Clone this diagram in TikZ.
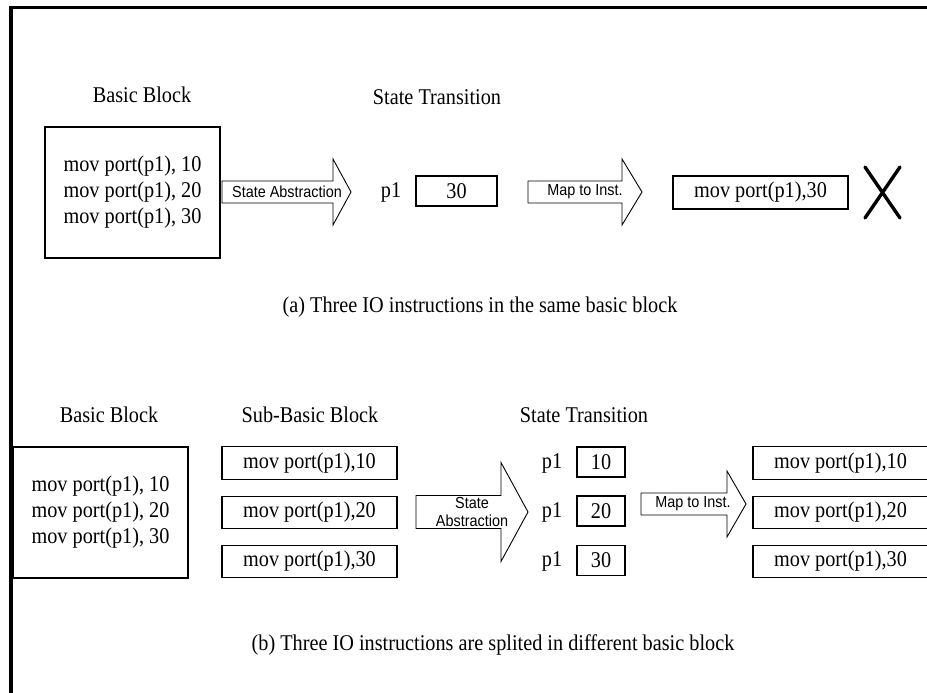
\documentclass[tikz,border=0pt]{standalone}
\usepackage{fontspec}
\setmainfont{Liberation Serif}[FakeStretch=0.9]
\setsansfont{Liberation Sans}[FakeStretch=0.9]
\newcommand\serifsz{\fontsize{22.5}{26}\selectfont}
\newcommand\sanssz{\sffamily\fontsize{16}{18}\selectfont}
% hollow block arrow: start x, body end x, tip x, centre y, half body height, half head height
\newcommand\blockarr[6]{%
  \draw[barrow] (#1,#4-#5) -- (#2,#4-#5) -- (#2,#4-#6) -- (#3,#4)
    -- (#2,#4+#6) -- (#2,#4+#5) -- (#1,#4+#5) -- cycle;}
\begin{document}
\begin{tikzpicture}[x=1pt,y=-1pt,
  box/.style={draw, line width=1.2pt, inner sep=0pt, font=\serifsz, align=center},
  lbl/.style={inner sep=0pt, font=\serifsz},
  arrtxt/.style={inner sep=0pt, font=\sanssz, align=center},
  barrow/.style={draw, line width=0.9pt, fill=white, line join=miter}]
\useasboundingbox (0,0) rectangle (927,693);
\clip (0,0) rectangle (927,693);
\fill[white] (0,0) rectangle (927,693);

% frame
\draw[line width=2.7pt] (9.5,7.3) -- (930,7.3);
\draw[line width=3.4pt] (11,6) -- (11,700);

% ---------- (a) ----------
\node[lbl] (ta1) at (142,95) {Basic Block};
\node[lbl] (ta2) at (437,97) {State Transition};
\node[box, minimum width=175pt, minimum height=131pt] (bba) at (132.5,192.5)
  {mov port(p1), 10\\mov port(p1), 20\\mov port(p1), 30};
\blockarr{222}{333}{351}{192}{11}{33}
\node[arrtxt] (saa) at (287,192) {State Abstraction};
\node[lbl] (p1a) at (391,192) {p1};
\node[box, minimum width=81pt, minimum height=30pt] (va) at (456.5,191) {30};
\blockarr{528}{622}{642}{192}{11}{33}
\node[arrtxt] (mia) at (585,192) {Map to Inst.};
\node[box, minimum width=175pt, minimum height=33pt] (ia) at (760.5,192.5) {mov port(p1),30};
\coordinate (xa1) at (865,167);
\coordinate (xa2) at (900,218);
\coordinate (xa3) at (865,218);
\coordinate (xa4) at (900,167);
\draw[line width=3.4pt, line cap=round] (xa1) -- (xa2) (xa3) -- (xa4);
\node[lbl] (capa) at (480,307) {(a) Three IO instructions in the same basic block};

% ---------- (b) ----------
\node[lbl] (tb1) at (109,415) {Basic Block};
\node[lbl] (tb2) at (310,415) {Sub-Basic Block};
\node[lbl] (tb3) at (584,415) {State Transition};
\node[box, minimum width=175pt, minimum height=131pt] (bbb) at (100.5,512.5)
  {mov port(p1), 10\\mov port(p1), 20\\mov port(p1), 30};
\node[box, minimum width=175pt, minimum height=32.5pt] (s1) at (309.5,463) {mov port(p1),10};
\node[box, minimum width=175pt, minimum height=32.5pt] (s2) at (309.5,512.5) {mov port(p1),20};
\node[box, minimum width=175pt, minimum height=32.5pt] (s3) at (309.5,561.5) {mov port(p1),30};
\blockarr{416}{501}{528}{512}{16.5}{49.5}
\node[arrtxt] (sab) at (472,512) {State\\Abstraction};
\node[lbl] (p1b) at (552,463) {p1};
\node[lbl] (p2b) at (552,512) {p1};
\node[lbl] (p3b) at (552,561) {p1};
\node[box, minimum width=48pt, minimum height=30pt] (v1) at (601,462) {10};
\node[box, minimum width=48pt, minimum height=30pt] (v2) at (601,511) {20};
\node[box, minimum width=48pt, minimum height=30pt] (v3) at (601,560.5) {30};
\blockarr{641}{727}{746}{504}{11}{33}
\node[arrtxt] (mib) at (693,504) {Map to Inst.};
\node[box, minimum width=175pt, minimum height=32.5pt] (r1) at (840.5,463) {mov port(p1),10};
\node[box, minimum width=175pt, minimum height=32.5pt] (r2) at (840.5,512.5) {mov port(p1),20};
\node[box, minimum width=175pt, minimum height=32.5pt] (r3) at (840.5,561.5) {mov port(p1),30};
\node[lbl] (capb) at (493,645) {(b) Three IO instructions are splited in different basic block};
\end{tikzpicture}
\end{document}
